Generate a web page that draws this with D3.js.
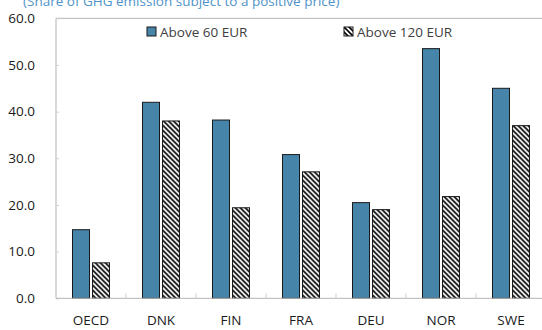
<!DOCTYPE html>
<html lang="en">
<head>
  <meta charset="UTF-8">
  <title>GHG emissions subject to a positive price</title>
  <script src="https://d3js.org/d3.v7.min.js"></script>
  <style>
    body { margin: 0; font-family: "Open Sans", sans-serif; background: #fff; }
    svg { display: block; }
    .tick-label { font-size: 13.5px; fill: #1a1a1a; }
    .legend-label { font-size: 13.5px; fill: #404040; }
  </style>
</head>
<body>
  <svg width="542" height="330"></svg>

  <script>
    const countries = ["OECD", "DNK", "FIN", "FRA", "DEU", "NOR", "SWE"];
    const series = ["Above 60 EUR", "Above 120 EUR"];
    const above60 = [14.7, 42.0, 38.2, 30.8, 20.5, 53.5, 45.0];
    const above120 = [7.6, 38.0, 19.4, 27.1, 19.0, 21.8, 37.0];
    const yTicks = [0, 10, 20, 30, 40, 50, 60];

    const plotLeft = 56, plotRight = 546, plotTop = 18.3, plotBottom = 298.3;

    const svg = d3.select("svg");

    // hatch pattern
    const defs = svg.append("defs");
    const pat = defs.append("pattern")
      .attr("id", "hatch")
      .attr("patternUnits", "userSpaceOnUse")
      .attr("width", 5).attr("height", 5);
    pat.append("rect").attr("width", 5).attr("height", 5).attr("fill", "#fff");
    pat.append("path")
      .attr("d", "M0,0L5,5M-1,4L1,6M4,-1L6,1")
      .attr("stroke", "#000").attr("stroke-width", 1.6);

    const x0 = d3.scaleBand().domain(countries).range([plotLeft, plotRight]);
    const x1 = d3.scaleBand().domain(series).range([0, 37]).paddingInner(0.15);
    const y = d3.scaleLinear().domain([0, 60]).range([plotBottom, plotTop]);

    // frame lines
    svg.append("line").attr("x1", plotLeft).attr("x2", plotRight).attr("y1", plotTop).attr("y2", plotTop)
      .attr("stroke", "#b3b3b3");
    svg.append("line").attr("x1", plotLeft).attr("x2", plotLeft).attr("y1", plotTop).attr("y2", plotBottom)
      .attr("stroke", "#b3b3b3");

    // y axis (ticks inside)
    const yAxis = svg.append("g")
      .attr("transform", `translate(${plotLeft},0)`)
      .call(d3.axisRight(y).tickValues(yTicks).tickSize(3).tickFormat(""));
    yAxis.select(".domain").remove();
    yAxis.selectAll("line").attr("stroke", "#cfcfcf");

    svg.append("g").selectAll("text")
      .data(yTicks)
      .join("text")
      .attr("class", "tick-label")
      .attr("x", 35)
      .attr("y", d => y(d))
      .attr("dy", "0.35em")
      .attr("text-anchor", "end")
      .text(d => d.toFixed(1));

    // bars
    const rows = countries.map((c, i) => ({ c, vals: [above60[i], above120[i]] }));
    const groups = svg.append("g").selectAll("g")
      .data(rows)
      .join("g")
      .attr("transform", d => `translate(${x0(d.c) + x0.bandwidth() / 2 - 18.5},0)`);

    groups.selectAll("rect")
      .data(d => d.vals.map((v, j) => ({ s: series[j], v })))
      .join("rect")
      .attr("x", d => x1(d.s))
      .attr("y", d => y(d.v))
      .attr("width", x1.bandwidth())
      .attr("height", d => y(0) - y(d.v))
      .attr("fill", d => d.s === series[0] ? "#4685a9" : "url(#hatch)")
      .attr("stroke", "#1a1a1a")
      .attr("stroke-width", 1);

    // x axis
    const xAxis = svg.append("g")
      .attr("transform", `translate(0,${plotBottom})`)
      .call(d3.axisBottom(x0).tickSize(0).tickFormat(""));
    xAxis.select(".domain").attr("stroke", "#b3b3b3").attr("d", `M${plotLeft},0H${plotRight}`);

    svg.append("g").selectAll("line")
      .data(countries.slice(1))
      .join("line")
      .attr("x1", d => x0(d)).attr("x2", d => x0(d))
      .attr("y1", plotBottom - 5).attr("y2", plotBottom)
      .attr("stroke", "#cfcfcf");

    svg.append("g").selectAll("text")
      .data(countries)
      .join("text")
      .attr("class", "tick-label")
      .attr("x", d => x0(d) + x0.bandwidth() / 2)
      .attr("y", 325)
      .attr("text-anchor", "middle")
      .text(d => d);

    // legend
    const legendX = [147, 344];
    const legend = svg.append("g").selectAll("g")
      .data(series)
      .join("g")
      .attr("transform", (d, i) => `translate(${legendX[i]},27)`);
    legend.append("rect")
      .attr("width", 9).attr("height", 9)
      .attr("fill", (d, i) => i === 0 ? "#4685a9" : "url(#hatch)")
      .attr("stroke", "#1a1a1a");
    legend.append("text")
      .attr("class", "legend-label")
      .attr("x", 13).attr("y", 9.5)
      .text(d => d);

    // subtitle, cut at the top edge as in the source
    svg.append("text")
      .attr("x", 23).attr("y", 6)
      .attr("font-size", 13.5)
      .attr("fill", "#4f93c8")
      .text("(Share of GHG emission subject to a positive price)");
  </script>
</body>
</html>
